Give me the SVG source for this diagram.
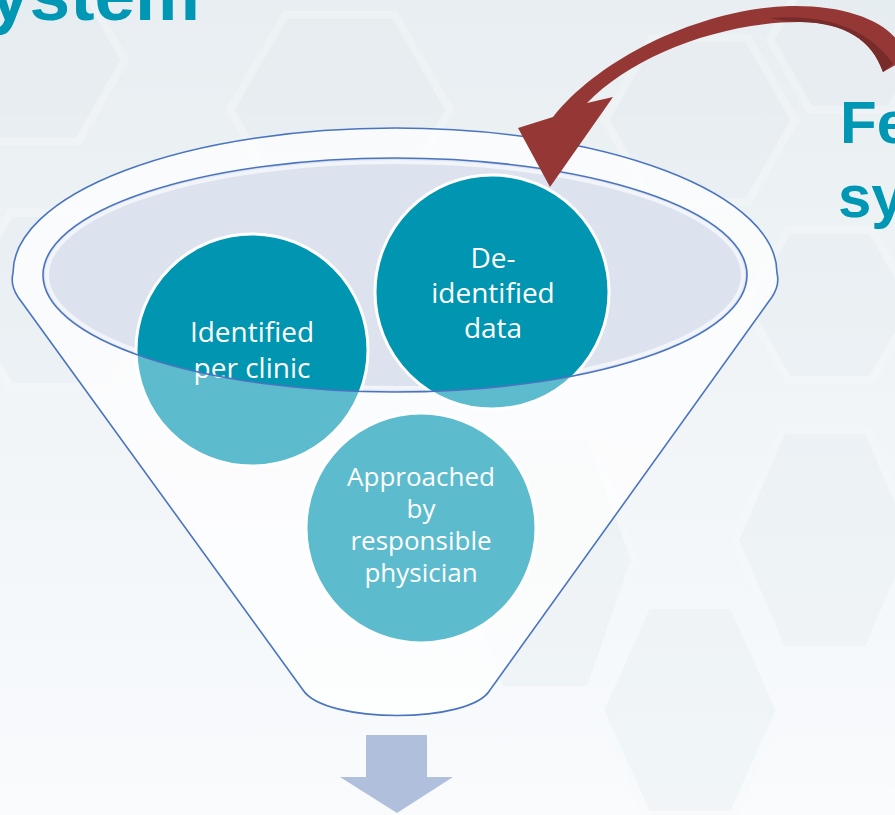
<svg xmlns="http://www.w3.org/2000/svg" width="895" height="815" viewBox="0 0 895 815">
  <defs>
    <linearGradient id="bg" x1="0" y1="0" x2="0" y2="1">
      <stop offset="0" stop-color="#e8eef1"/>
      <stop offset="0.45" stop-color="#f0f4f7"/>
      <stop offset="1" stop-color="#f9fbfd"/>
    </linearGradient>
    <style>
      .hex { fill: #e4ecf0; stroke: #f7fafc; stroke-width: 8; opacity: 0.35; }
      .rim { fill: none; stroke: #4a74c0; stroke-width: 1.6; }
      .disc { fill: #0095b0; stroke: #ffffff; stroke-width: 3; }
      .lbl { font-family: "Open Sans", "Noto Sans", sans-serif; fill: #ffffff; text-anchor: middle; }
      .title { font-family: "Liberation Sans", Arial, sans-serif; font-weight: bold; fill: #0097b5; }
    </style>
  </defs>

  <!-- background -->
  <g id="background">
    <rect width="895" height="815" fill="url(#bg)"/>
    <polygon class="hex" points="-65,60 -18,-22 78,-22 125,60 78,142 -18,142"/>
    <polygon class="hex" points="230,110 285,15 395,15 450,110 395,205 285,205"/>
    <polygon class="hex" points="605,120 652,38 748,38 795,120 748,202 652,202"/>
    <polygon class="hex" points="770,40 810,-30 890,-30 930,40 890,110 810,110"/>
    <polygon class="hex" points="745,305 788,230 872,230 915,305 872,380 788,380"/>
    <polygon class="hex" points="735,540 782,430 868,430 915,540 868,650 782,650"/>
    <polygon class="hex" points="600,710 647,605 733,605 780,710 733,815 647,815"/>
    <polygon class="hex" points="455,560 500,435 590,435 635,560 590,690 500,690"/>
    <polygon class="hex" points="-40,300 10,213 110,213 160,300 110,387 10,387"/>
  </g>

  <!-- titles -->
  <g id="title-left">
    <text class="title" x="-11" y="20" font-size="73">ystem</text>
  </g>
  <g id="title-right">
    <text class="title" x="840" y="143" font-size="60">Fe</text>
    <text class="title" x="838" y="217" font-size="60">sy</text>
  </g>

  <!-- funnel -->
  <g id="funnel">
    <path d="M 18,297 Q 10,285 13,273 A 382 145 0 0 1 777,273 Q 780,285 772,297 L 490,690 C 470,724 325,724 303,690 Z" fill="#ffffff" fill-opacity="0.6"/>
    <ellipse cx="395" cy="275" rx="352" ry="117" fill="#dde3ee"/>
    <ellipse cx="395" cy="275" rx="348" ry="113" fill="none" stroke="#ffffff" stroke-width="4" stroke-opacity="0.6"/>
  </g>

  <g id="node-identified">
    <circle class="disc" cx="252" cy="350" r="116"/>
    <text class="lbl" font-size="28"><tspan x="252" y="342">Identified</tspan><tspan x="252" y="378">per clinic</tspan></text>
  </g>
  <g id="node-deidentified">
    <circle class="disc" cx="492" cy="292" r="117"/>
    <text class="lbl" font-size="28"><tspan x="493" y="268">De-</tspan><tspan x="493" y="303">identified</tspan><tspan x="493" y="338">data</tspan></text>
  </g>
  <g id="node-approached">
    <circle class="disc" cx="421" cy="528" r="115"/>
    <text class="lbl" font-size="26"><tspan x="421" y="486">Approached</tspan><tspan x="421" y="518">by</tspan><tspan x="421" y="550">responsible</tspan><tspan x="421" y="582">physician</tspan></text>
  </g>

  <g id="funnel-front">
    <path fill-rule="evenodd" fill="#ffffff" fill-opacity="0.36" d="M 18,297 Q 10,285 13,273 A 382 145 0 0 1 777,273 Q 780,285 772,297 L 490,690 C 470,724 325,724 303,690 Z M 43,275 A 352 117 0 1 0 747,275 A 352 117 0 1 0 43,275 Z"/>
    <path class="rim" d="M 18,297 Q 10,285 13,273 A 382 145 0 0 1 777,273 Q 780,285 772,297 L 490,690 C 470,724 325,724 303,690 Z"/>
    <ellipse class="rim" cx="395" cy="275" rx="352" ry="117"/>
  </g>

  <!-- connectors -->
  <g id="connectors">
    <path d="M 518,128 L 550,187 L 613,97 L 587,103 C 632,56 720,22 800,22 C 845,22 872,40 883,72 L 897,64 L 897,40 C 880,18 840,5 790,6 C 700,9 600,58 553,117 Z" fill="#953735"/>
    <path d="M 770,18 C 825,14 868,28 893,64 L 883,72 C 872,40 845,23 800,22 C 788,21 779,20 770,18 Z" fill="#772b2a"/>
    <path d="M 366,735 L 427,735 L 427,777 L 453,777 L 397,813 L 340,777 L 366,777 Z" fill="#b0bfdc"/>
  </g>
</svg>
